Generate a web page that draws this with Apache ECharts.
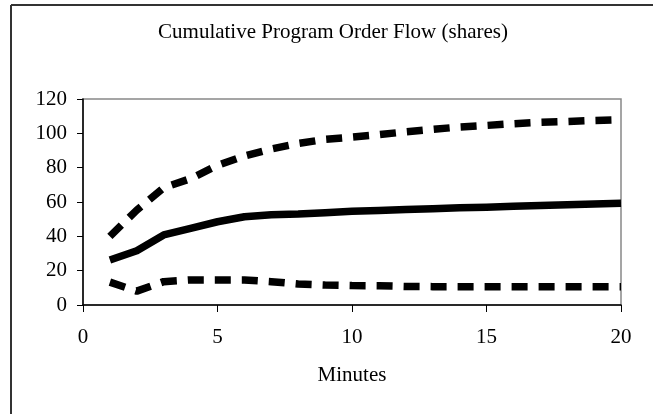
<!DOCTYPE html>
<html>
<head>
<meta charset="utf-8">
<script src="https://cdn.jsdelivr.net/npm/echarts@6/dist/echarts.min.js"></script>
<style>html,body{margin:0;padding:0;background:#fff;}#c{width:653px;height:414px;}</style>
</head>
<body>
<div id="c"></div>
<script>
var minutes = [1,2,3,4,5,6,7,8,9,10,11,12,13,14,15,16,17,18,19,20];
var meanFlow = [26.2,31.6,40.8,44.7,48.5,51.4,52.6,53.0,53.8,54.6,55.1,55.6,56.1,56.6,57.0,57.5,58.0,58.4,58.9,59.3];
var upperBand = [40.0,55.3,68.3,73.6,81.3,86.8,90.9,94.1,96.5,97.8,99.2,100.9,102.3,103.7,104.6,105.6,106.4,106.9,107.5,107.9];
var lowerBand = [13.3,8.1,13.6,14.6,14.6,14.6,13.6,12.2,11.6,11.3,11.2,10.8,10.7,10.7,10.7,10.7,10.7,10.7,10.7,10.7];
var xTicks = [0,5,10,15,20];
var yTicks = [0,20,40,60,80,100,120];
var titleText = 'Cumulative Program Order Flow (shares)';
var xName = 'Minutes';

function pairs(vals){ return minutes.map(function(m,i){ return [m, vals[i]]; }); }
var FONT = '"Liberation Serif","Times New Roman",serif';

var chart = echarts.init(document.getElementById('c'), null, {renderer:'canvas'});
chart.setOption({
  animation: false,
  backgroundColor: '#fff',
  graphic: [
    {type:'line', shape:{x1:11, y1:5, x2:700, y2:5}, style:{stroke:'#333', lineWidth:2}},
    {type:'line', shape:{x1:11, y1:5, x2:11, y2:500}, style:{stroke:'#333', lineWidth:2}},
    {type:'text', x:333, y:32, style:{text:titleText, font:'21px ' + FONT, fill:'#000', textAlign:'center', textVerticalAlign:'middle'}}
  ],
  grid: {left:83, right:32, top:99, bottom:109, show:true, borderColor:'#888', borderWidth:1.5, backgroundColor:'#fff'},
  xAxis: {
    type:'value', min:xTicks[0], max:xTicks[xTicks.length-1], interval:5,
    name: xName, nameLocation:'middle', nameGap:60,
    nameTextStyle:{fontFamily:FONT, fontSize:21, color:'#000'},
    axisLine:{show:true, lineStyle:{color:'#000', width:1.5}},
    axisTick:{show:true, inside:false, length:7, lineStyle:{color:'#000', width:1}},
    axisLabel:{margin:22, fontFamily:FONT, fontSize:21, color:'#000'},
    splitLine:{show:false}
  },
  yAxis: {
    type:'value', min:yTicks[0], max:yTicks[yTicks.length-1], interval:20,
    axisLine:{show:true, lineStyle:{color:'#000', width:1.5}},
    axisTick:{show:true, inside:false, length:6, lineStyle:{color:'#000', width:1}},
    axisLabel:{margin:16, fontFamily:FONT, fontSize:21, color:'#000'},
    splitLine:{show:false}
  },
  series: [
    {type:'line', data:pairs(upperBand), showSymbol:false, symbol:'none',
     lineStyle:{color:'#000', width:7.5, type:[16,11], cap:'butt'}},
    {type:'line', data:pairs(lowerBand), showSymbol:false, symbol:'none',
     lineStyle:{color:'#000', width:7.5, type:[16,11], cap:'butt'}},
    {type:'line', data:pairs(meanFlow), showSymbol:false, symbol:'none',
     lineStyle:{color:'#000', width:7.5, cap:'butt', join:'round'}}
  ]
});
</script>
</body>
</html>
